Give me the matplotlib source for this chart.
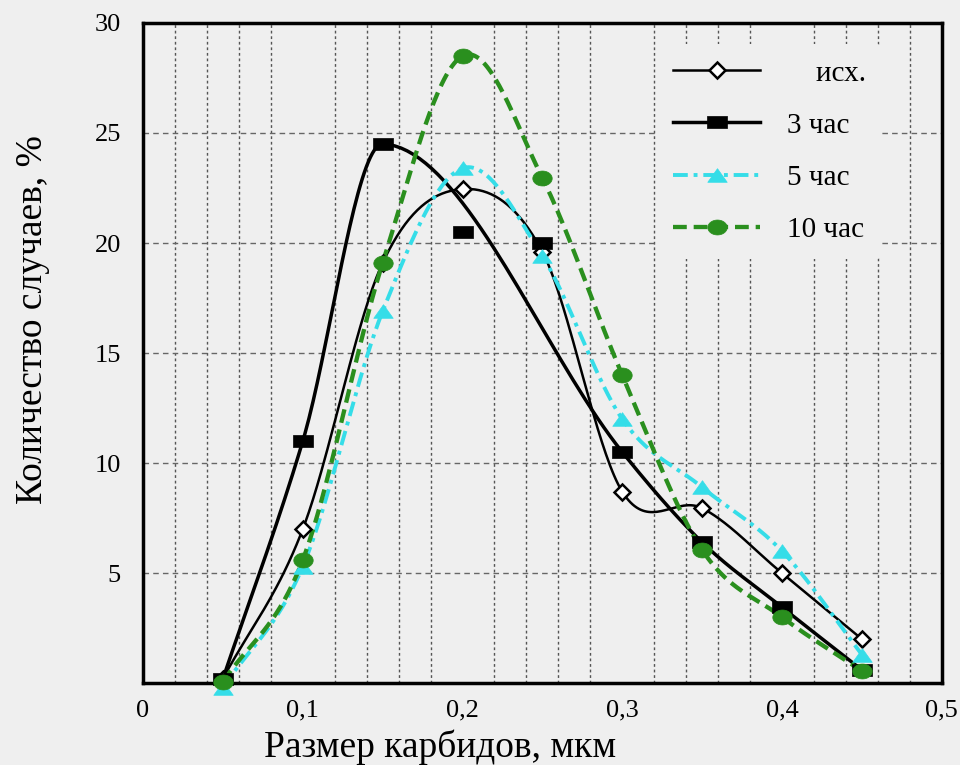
import matplotlib
matplotlib.use("Agg")
import matplotlib.pyplot as plt
import numpy as np

# размер карбидов, мкм
x = [0.05, 0.10, 0.15, 0.20, 0.25, 0.30, 0.35, 0.40, 0.45]
# количество случаев, %
y_ish = [0.2, 7.0, 19.1, 22.45, 19.6, 8.7, 7.95, 5.0, 2.0]
y_3h = [0.2, 11.0, 24.5, 20.5, 20.0, 10.5, 6.4, 3.45, 0.6]
y_5h = [-0.2, 5.3, 16.9, 23.4, 19.4, 12.0, 8.9, 6.0, 1.3]
y_10h = [0.05, 5.6, 19.1, 28.5, 22.95, 14.0, 6.05, 3.0, 0.55]
# the drawn 3 час curve passes by these two points
skip_3h = [3, 4]

labels = ['    исх.', '3 час', '5 час', '10 час']
xticks = [0, 0.1, 0.2, 0.3, 0.4, 0.5]
xticklabels = ['0', '0,1', '0,2', '0,3', '0,4', '0,5']
yticks = [5, 10, 15, 20, 25, 30]


def smooth(xs, ys, n=40):
    # cubic hermite in x, tangents from neighbours (excel-like smoothing)
    xs = np.asarray(xs, float)
    ys = np.asarray(ys, float)
    m = np.empty_like(ys)
    m[1:-1] = (ys[2:] - ys[:-2]) / (xs[2:] - xs[:-2])
    m[0] = (ys[1] - ys[0]) / (xs[1] - xs[0])
    m[-1] = (ys[-1] - ys[-2]) / (xs[-1] - xs[-2])
    outx, outy = [], []
    s = np.linspace(0, 1, n)
    for i in range(len(xs) - 1):
        h = xs[i + 1] - xs[i]
        h00 = 1 - 3 * s ** 2 + 2 * s ** 3
        h10 = s - 2 * s ** 2 + s ** 3
        h01 = 3 * s ** 2 - 2 * s ** 3
        h11 = s ** 3 - s ** 2
        outx.extend(xs[i] + s * h)
        outy.extend(h00 * ys[i] + h10 * h * m[i] + h01 * ys[i + 1] + h11 * h * m[i + 1])
    return np.array(outx), np.array(outy)


bg = '#efefef'
cyan = '#35dde8'
green = '#2a8f1e'
plt.rcParams['font.family'] = ['Liberation Serif', 'DejaVu Serif']

fig = plt.figure(figsize=(9.6, 7.65), dpi=100, facecolor=bg)
ax = fig.add_axes([0.149, 0.107, 0.832, 0.863])
ax.set_facecolor(bg)

rect = [(-1.5, -1), (1.5, -1), (1.5, 1), (-1.5, 1), (-1.5, -1)]
tri = [(0, 0.7), (-1, -0.7), (1, -0.7), (0, 0.7)]
th = np.linspace(0, 2 * np.pi, 41)
ell = list(zip(1.3 * np.cos(th), np.sin(th)))

styles = [
    dict(color='black', lw=1.8, ls='-', marker='D', ms=8.5, mfc='white', mec='black', mew=1.8),
    dict(color='black', lw=2.5, ls='-', marker=rect, ms=14, mfc='black', mec='black', mew=0.5),
    dict(color=cyan, lw=2.8, ls=(0, (3.8, 1.5, 1.0, 1.5)), marker=tri, ms=14, mfc=cyan, mec=cyan, mew=0.5),
    dict(color=green, lw=3.1, ls=(0, (3.2, 1.6)), marker=ell, ms=14, mfc=green, mec=green, mew=0.5),
]

series = [y_ish, y_3h, y_5h, y_10h]
for k, (ys, lab, st) in enumerate(zip(series, labels, styles)):
    keep = [i for i in range(len(x)) if not (k == 1 and i in skip_3h)]
    sx, sy = smooth([x[i] for i in keep], [ys[i] for i in keep])
    ax.plot(sx, sy, color=st['color'], lw=st['lw'], ls=st['ls'], zorder=3)
    ax.plot(x, ys, ls='none', marker=st['marker'], ms=st['ms'], mfc=st['mfc'],
            mec=st['mec'], mew=st['mew'], zorder=4, clip_on=False)
    ax.plot([], [], label=lab, **st)

ax.set_xlim(0, 0.5)
ax.set_ylim(0, 30)
ax.set_xticks(xticks)
ax.set_xticklabels(xticklabels)
ax.set_yticks(yticks)
ax.set_xticks(np.arange(0.02, 0.5, 0.02), minor=True)
ax.tick_params(which='both', length=0, labelsize=19)
ax.tick_params(axis='y', pad=16)
ax.tick_params(axis='x', pad=12)

ax.grid(axis='x', which='minor', color='#555555', ls=(0, (2, 2)), lw=1.0)
ax.grid(axis='y', which='major', color='#666666', ls=(0, (4, 3)), lw=1.0)
ax.set_axisbelow(True)

for s in ax.spines.values():
    s.set_linewidth(2.5)

ax.set_xlabel('Размер карбидов, мкм', fontsize=27)
ax.xaxis.set_label_coords(0.372, -0.07)
ax.set_ylabel('Количество случаев, %', fontsize=27)
ax.yaxis.set_label_coords(-0.117, 0.55)

leg = ax.legend(loc='upper left', bbox_to_anchor=(0.625, 0.99), frameon=True,
                fontsize=21, handlelength=3.0, handletextpad=0.9,
                labelspacing=0.88, borderpad=0.55)
leg.get_frame().set_facecolor(bg)
leg.get_frame().set_edgecolor('none')
leg.get_frame().set_alpha(1)

fig.savefig('out.png', dpi=100, facecolor=bg)
